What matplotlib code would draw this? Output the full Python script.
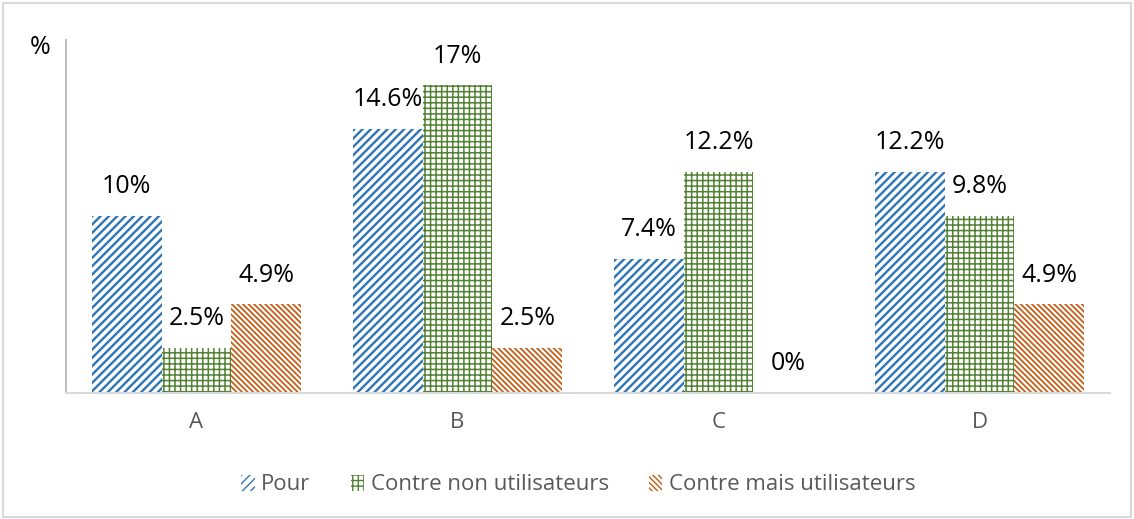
import numpy as np
from matplotlib import pyplot as plt
from matplotlib.patches import Rectangle, Patch

categories = ["A", "B", "C", "D"]
series_names = ["Pour", "Contre non utilisateurs", "Contre mais utilisateurs"]
pour = [9.8, 14.6, 7.4, 12.2]
contre_non = [2.5, 17.0, 12.2, 9.8]
contre_mais = [4.9, 2.5, 0.0, 4.9]
pour_labels = ["10%", "14.6%", "7.4%", "12.2%"]
contre_non_labels = ["2.5%", "17%", "12.2%", "9.8%"]
contre_mais_labels = ["4.9%", "2.5%", "0%", "4.9%"]

colors = ["#2E75B6", "#548235", "#C55A11"]
hatches = ["////", "+++", "\\\\\\\\\\\\"]
hatch_widths = [1.7, 1.1, 1.25]

plt.rcParams["font.family"] = ["Open Sans", "DejaVu Sans"]

fig = plt.figure(figsize=(11.34, 5.19), dpi=100)
ax = fig.add_axes([66 / 1134, 1 - 393 / 519, (1110 - 66) / 1134, (393 - 40) / 519])

x = np.arange(len(categories))
width = 0.268
all_values = [pour, contre_non, contre_mais]
all_labels = [pour_labels, contre_non_labels, contre_mais_labels]
handles = []
for i, (vals, labs) in enumerate(zip(all_values, all_labels)):
    pos = x + (i - 1) * width
    with plt.rc_context({"hatch.linewidth": hatch_widths[i]}):
        ax.bar(pos, vals, width, facecolor="white", edgecolor=colors[i],
               hatch=hatches[i], linewidth=0)
        handles.append(Patch(facecolor="white", edgecolor=colors[i],
                             hatch=hatches[i], linewidth=0, label=series_names[i]))
    for px, v, lab in zip(pos, vals, labs):
        ax.annotate(lab, (px, v), xytext=(0, 21), textcoords="offset points",
                    ha="center", va="center", fontsize=18, color="#000000")

ax.set_xlim(-0.5, 3.5)
ax.set_ylim(0, 19.5)
ax.set_xticks(x)
ax.set_xticklabels(categories, fontsize=16, color="#595959")
ax.tick_params(axis="x", length=0, pad=14)
ax.set_yticks([])
for side in ["top", "right"]:
    ax.spines[side].set_visible(False)
ax.spines["left"].set_color("#BFBFBF")
ax.spines["left"].set_linewidth(1.5)
ax.spines["bottom"].set_color("#D9D9D9")
ax.spines["bottom"].set_linewidth(1.5)

fig.text(40 / 1134, 1 - 48 / 519, "%", fontsize=18, ha="center", va="center")

fig.legend(handles=handles, loc="center", bbox_to_anchor=(0.51, 1 - 485 / 519),
           ncol=3, frameon=False, fontsize=16, labelcolor="#595959",
           handlelength=0.6, handleheight=0.7, handletextpad=0.3,
           columnspacing=1.8)

fig.patches.append(Rectangle((0.003, 0.004), 0.994, 0.99, transform=fig.transFigure,
                             fill=False, edgecolor="#D9D9D9", linewidth=1.5))

fig.savefig("out.png", dpi=100)
